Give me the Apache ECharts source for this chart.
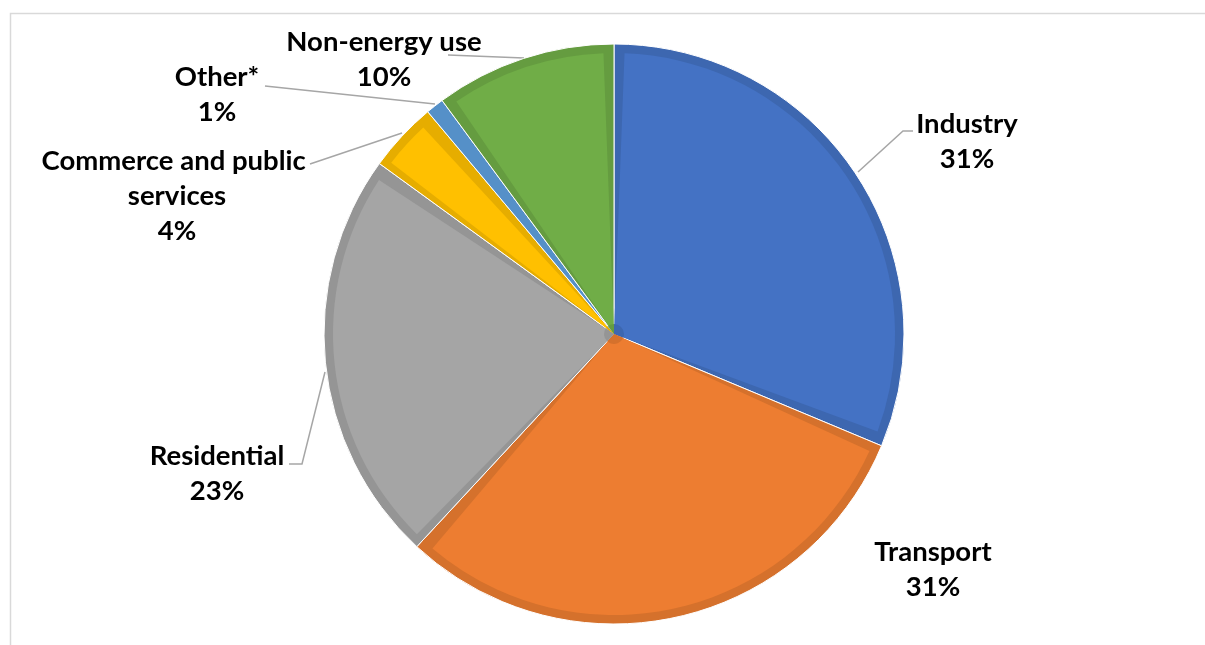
<!DOCTYPE html>
<html><head><meta charset="utf-8">
<script src="https://cdn.jsdelivr.net/npm/echarts@6/dist/echarts.min.js"></script>
<style>html,body{margin:0;padding:0;background:#fff}#c{width:1205px;height:645px}</style>
</head><body><div id="c"></div>
<script>
const categories = ['Industry', 'Transport', 'Residential', 'Commerce and public services', 'Other*', 'Non-energy use'];
const shares = [31.3, 30.6, 23.1, 3.9, 1.0, 10.1];
const fillColors = ['#4472C4', '#ED7D31', '#A5A5A5', '#FFC000', '#5B9BD5', '#70AD47'];
const edgeColors = ['#3D67B0', '#D5712C', '#959595', '#E6AD00', '#5590C8', '#659C40'];
const labelPos = [[967, 142], [933, 570], [217, 474], [177, 196], [217, 95], [384, 60]];
const labelLines = [
  [[858, 172], [903, 131], [913, 131]],
  null,
  [[325, 372], [302, 464], [289, 464]],
  [[402, 133], [310, 164]],
  [[435, 104], [265, 86]],
  [[524, 58], [448, 55]]
];

const chart = echarts.init(document.getElementById('c'), null, {renderer: 'canvas'});
const CENTER = [614, 334];

function mk(colors, withLabel) {
  return categories.map((n, i) => {
    const d = {name: n, value: shares[i], itemStyle: {color: colors[i]}};
    if (withLabel && !labelLines[i]) d.labelLine = {show: false};
    return d;
  });
}

chart.setOption({
  backgroundColor: '#fff',
  animation: false,
  graphic: [{
    type: 'rect', silent: true, z: -10,
    shape: {x: 10.5, y: 13.5, width: 1300, height: 700},
    style: {fill: 'none', stroke: '#d9d9d9', lineWidth: 1.5}
  }],
  series: [
    {
      type: 'pie', center: CENTER, radius: 290, startAngle: 90, clockwise: true,
      avoidLabelOverlap: false, percentPrecision: 0, z: 2,
      itemStyle: {borderColor: '#fff', borderWidth: 1},
      data: mk(edgeColors, true),
      label: {
        show: true, position: 'outside',
        formatter: '{b}\n{d}%',
        fontFamily: 'Lato', fontWeight: 'bold', fontSize: 27.5, lineHeight: 35,
        color: '#000', width: 285, overflow: 'break', align: 'center'
      },
      labelLine: {show: true, lineStyle: {color: '#A6A6A6', width: 1.5}},
      labelLayout: function (p) {
        const i = p.dataIndex;
        const o = {x: labelPos[i][0], y: labelPos[i][1], align: 'center', verticalAlign: 'middle'};
        if (labelLines[i]) o.labelLinePoints = labelLines[i];
        return o;
      },
      emphasis: {disabled: true}
    },
    {
      type: 'pie', center: CENTER, radius: 281, startAngle: 90, clockwise: true,
      padAngle: 4.3, silent: true, z: 3,
      data: mk(fillColors, false),
      label: {show: false}, labelLine: {show: false},
      emphasis: {disabled: true}
    },
    {
      type: 'pie', center: CENTER, radius: 10, startAngle: 90, clockwise: true,
      silent: true, z: 4,
      itemStyle: {borderWidth: 0},
      data: mk(edgeColors, false),
      label: {show: false}, labelLine: {show: false},
      emphasis: {disabled: true}
    }
  ]
});
</script>
</body></html>
